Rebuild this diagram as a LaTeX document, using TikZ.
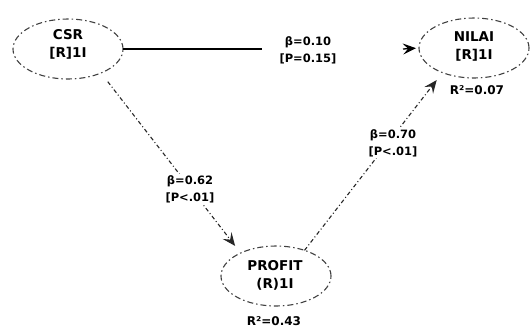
\documentclass[tikz,border=0pt]{standalone}
\usepackage{fontspec}
\setmainfont{DejaVu Sans}
\usetikzlibrary{arrows.meta,shapes.geometric}
\begin{document}
\begin{tikzpicture}[x=1pt,y=-1pt,
  lv/.style={ellipse, draw=black!75, line width=1.1pt, dash pattern=on 6pt off 3pt on 1.5pt off 3pt, minimum width=110pt, minimum height=60pt, inner sep=0pt, outer sep=0pt},
  nm/.style={font=\fontsize{13.5}{18}\selectfont\bfseries, align=center, inner sep=0pt},
  coef/.style={font=\fontsize{11.5}{17}\selectfont\bfseries, align=center, inner sep=1pt, fill=white},
  rsq/.style={font=\fontsize{12}{14}\selectfont\bfseries, inner sep=0pt},
  tip/.style={-{Stealth[length=13pt,width=11pt,inset=5pt]}},
  dd/.style={line width=1.1pt, dash pattern=on 4pt off 2.5pt on 1pt off 2.5pt, black!85},
]
\useasboundingbox (0,0) rectangle (530,327);
% latent variables
\node[lv] (csr) at (68,49) {};
\node[nm] (csrt) at (68,44) {CSR\\{[R]1I}};
\node[lv] (nilai) at (474,48) {};
\node[nm] (nilait) at (474,46) {NILAI\\{[R]1I}};
\node[lv] (profit) at (276,276) {};
\node[nm] (profitt) at (275,275) {PROFIT\\(R)1I};
\node[rsq] (r1) at (477,90) {R²=0.07};
\node[rsq] (r2) at (274,321) {R²=0.43};
% dashed connectors
\draw[dd, tip, shorten <=11pt, shorten >=9pt] (csr.-36) -- (profit.147);
\draw[dd, tip, shorten >=9.5pt] (profit.42) -- (nilai.218);
% path coefficients
\node[coef] (b1) at (308,50) {β=0.10\\{[P=0.15]}};
\node[coef] (b2) at (190,189) {β=0.62\\{[P<.01]}};
\node[coef] (b3) at (393,143) {β=0.70\\{[P<.01]}};
% solid connector
\draw[line width=1.3pt, shorten >=16pt] (csr.east) -- (b1.west |- csr.east);
\coordinate (t1) at (403,49);
\draw[tip, line width=1.3pt, shorten >=3pt] (t1) -- (nilai.west);
\end{tikzpicture}
\end{document}
